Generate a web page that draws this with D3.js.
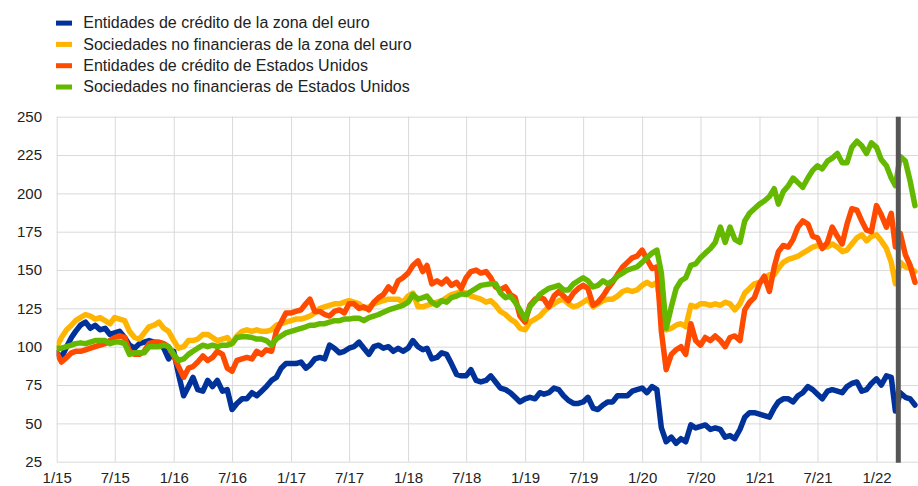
<!DOCTYPE html>
<html lang="es">
<head>
<meta charset="UTF-8">
<title>Índices bursátiles</title>
<script src="https://d3js.org/d3.v7.min.js"></script>
<style>
  body { margin: 0; padding: 0; background: #ffffff; }
  svg { display: block; font-family: "Liberation Sans", Arial, sans-serif; }
  .grid line { stroke: #d9d9d9; stroke-width: 1; }
  .grid .domain { display: none; }
  .grid text { fill: #222; font-size: 15px; }
  .legend text { fill: #222; font-size: 16px; }
</style>
</head>
<body>
<div id="chart"></div>
<script>
// series names (legend order)
const seriesNames = [
  "Entidades de crédito de la zona del euro",
  "Sociedades no financieras de la zona del euro",
  "Entidades de crédito de Estados Unidos",
  "Sociedades no financieras de Estados Unidos"
];
const seriesColors = ["#003299", "#ffb400", "#ff4b00", "#65b800"];

// semi-monthly observations, 1 Jan 2015 .. 1 May 2022 (index 100 = 1/2015)
const euroBanks = [
  96,93,100,106,110,114,116,112,114,111,
  112,108,109,110,106,101,99,102,103,104,
  103,102,99,92,97,82,68,74,80,72,
  71,78,74,78,71,72,59,63,66,66,
  70,68,71,74,78,80,86,89,89,89,
  90,86,88,92,93,92,101,99,96,97,
  99,100,103,99,95,100,101,99,100,97,
  99,97,99,104,100,98,99,92,93,96,
  95,89,82,81,81,85,78,77,78,81,
  77,73,72,70,67,64,66,67,66,70,
  69,70,73,72,68,65,63,63,64,67,
  60,59,62,64,64,68,68,68,71,72,
  73,70,74,72,47,38,41,37,40,38,
  49,47,48,49,46,47,46,41,42,40,
  46,54,57,57,56,55,54,60,64,66,
  66,64,68,70,74,72,69,66,71,72,
  71,70,74,76,77,71,72,76,79,75,
  81,80,58,70,67,66,62
];
const euroCorps = [
  100,106,111,114,117,119,121,120,118,119,
  117,115,119,118,117,110,106,105,109,113,
  114,116,112,110,104,99,100,104,104,105,
  108,108,106,104,105,106,102,107,110,111,
  110,111,110,110,111,114,115,116,117,118,
  118,119,120,122,125,126,127,128,128,129,
  130,129,128,125,126,128,129,130,131,131,
  131,129,133,135,126,126,127,128,129,130,
  132,134,135,136,135,133,132,131,129,130,
  127,123,121,118,116,112,111,116,118,120,
  123,126,128,130,131,128,126,127,129,131,
  126,128,130,131,131,133,136,137,136,137,
  140,142,140,142,124,111,112,114,115,113,
  127,126,128,128,127,128,127,129,128,124,
  128,135,138,141,142,144,147,147,151,155,
  157,158,159,161,163,165,166,165,165,167,
  165,162,163,167,171,173,169,172,173,169,
  164,155,141,155,152,151,149
];
const usBanks = [
  96,90,93,96,97,97,98,99,100,101,
  102,104,106,107,106,97,95,95,97,102,
  103,103,102,100,94,87,80,86,87,90,
  94,91,93,97,95,86,84,91,92,93,
  92,97,95,98,97,110,116,122,122,123,
  124,128,131,123,123,121,120,123,124,122,
  128,128,125,126,124,129,132,134,139,136,
  143,145,148,153,156,149,153,141,143,141,
  144,140,142,138,145,149,150,148,149,145,
  139,137,139,134,132,120,116,127,131,132,
  131,126,133,136,133,130,135,138,140,138,
  127,129,133,138,142,147,152,155,158,159,
  163,157,151,152,110,85,95,98,100,95,
  115,104,101,106,104,107,104,100,106,107,
  104,124,129,132,141,146,136,152,162,166,
  165,170,178,182,180,172,171,164,168,178,
  172,167,180,190,189,182,176,175,192,186,
  178,187,165,174,160,153,142
];
const usCorps = [
  99,99,100,101,102,102.5,102,103,104,104,
  104,102,103,103,102,95,96,96,96,100,
  100,100,101,100,95,91,92,95,97,99,
  101,100,101,100,101,101,102,106,106.5,106.5,
  106,105,105,104,101,105,107,109,110,111,
  112,113,114,114,115,115,116,117,117,118,
  118,118.5,118.5,117,119,120,121,122.5,124,125,
  126,127,129,134,131,132,133,129,127,130,
  129,132,133,134.5,134,136,138,140,140.5,141,
  141,135,132,133,129,124,118,126,130,134,
  136,138,139,140,137,137,141,143,145,143,
  139,140,143,141,143,146,148,150,151,152,
  155,158,161,163,148,112,126,138,143,145,
  153,154,158,161,164,168,178,168,178,170,
  168,182,187,190,193,195,198,203,193,201,
  205,210,207,204,210,215,218,216,221,223,
  226,220,220,230,234,231,226,233,230,222,
  218,210,205,224,221,208,192
];

const yTicks = [25, 50, 75, 100, 125, 150, 175, 200, 225, 250];
const xTickLabels = ["1/15","7/15","1/16","7/16","1/17","7/17","1/18","7/18",
                     "1/19","7/19","1/20","7/20","1/21","7/21","1/22"];
const markerDate = new Date(2022, 2, 10);

const width = 918, height = 486;
const plotLeft = 56.7, plotRight = 918, plotTop = 116.7, plotBottom = 461.7;

const dates = euroBanks.map((d, i) => new Date(2015, Math.floor(i / 2), i % 2 ? 16 : 1));
const xTickDates = xTickLabels.map((d, i) => new Date(2015 + Math.floor(i / 2), (i % 2) * 6, 1));

const x = d3.scaleTime()
  .domain([new Date(2015, 0, 1), new Date(2022, 0, 1)])
  .range([plotLeft, 876.5]);
const y = d3.scaleLinear().domain([25, 250]).range([plotBottom, plotTop]);

const svg = d3.select("#chart").append("svg")
  .attr("width", width)
  .attr("height", height);

svg.append("rect").attr("width", width).attr("height", height).attr("fill", "#fff");

// gridlines + tick labels
svg.append("g")
  .attr("class", "grid")
  .attr("transform", `translate(${plotLeft},0)`)
  .call(d3.axisLeft(y).tickValues(yTicks).tickSize(-(plotRight - plotLeft)).tickPadding(14.7));

svg.append("g")
  .attr("class", "grid")
  .attr("transform", `translate(0,${plotBottom})`)
  .call(d3.axisBottom(x).tickValues(xTickDates)
    .tickFormat((d, i) => xTickLabels[i])
    .tickSize(-(plotBottom - plotTop)).tickPadding(10.4));

svg.append("clipPath").attr("id", "plot-clip")
  .append("rect")
  .attr("x", plotLeft).attr("y", plotTop - 10)
  .attr("width", plotRight - plotLeft).attr("height", plotBottom - plotTop + 20);

const line = d3.line()
  .x((d, i) => x(dates[i]))
  .y(d => y(d));

const allSeries = [euroBanks, euroCorps, usBanks, usCorps];

svg.append("g").attr("clip-path", "url(#plot-clip)")
  .selectAll("path")
  .data(allSeries)
  .join("path")
  .attr("d", line)
  .attr("fill", "none")
  .attr("stroke", (d, i) => seriesColors[i])
  .attr("stroke-width", 5.5)
  .attr("stroke-linejoin", "round")
  .attr("stroke-linecap", "round");

// vertical marker
svg.append("line")
  .attr("x1", x(markerDate)).attr("x2", x(markerDate))
  .attr("y1", plotTop).attr("y2", plotBottom + 1)
  .attr("stroke", "#555555")
  .attr("stroke-width", 5);

// legend
const legend = svg.append("g").attr("class", "legend")
  .selectAll("g")
  .data(seriesNames)
  .join("g")
  .attr("transform", (d, i) => `translate(56,${28.3 + i * 21.3})`);

legend.append("rect")
  .attr("x", 0).attr("y", -7.7)
  .attr("width", 16).attr("height", 5)
  .attr("fill", (d, i) => seriesColors[i]);

legend.append("text")
  .attr("x", 27.3)
  .attr("y", 0)
  .text(d => d);
</script>
</body>
</html>
